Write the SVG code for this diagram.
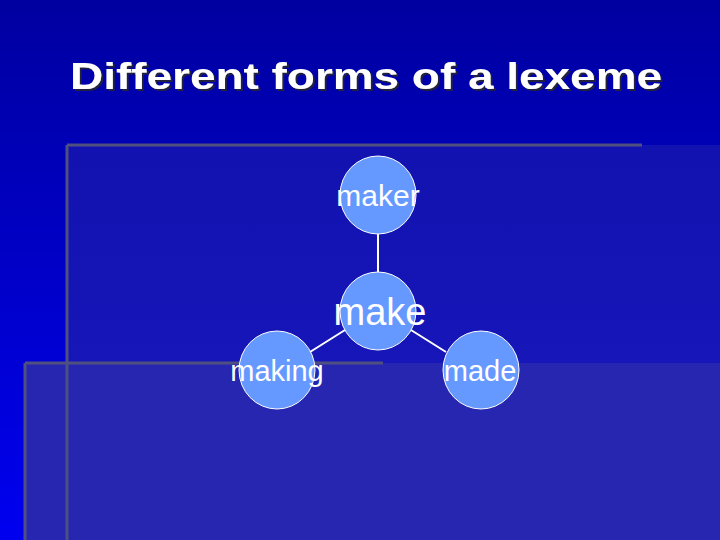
<svg xmlns="http://www.w3.org/2000/svg" width="720" height="540" viewBox="0 0 720 540">
<defs>
<linearGradient id="bg" x1="0" y1="0" x2="0" y2="1"><stop offset="0" stop-color="#0000a0"/><stop offset="0.3" stop-color="#0000b8"/><stop offset="1" stop-color="#0000f0"/></linearGradient>
<linearGradient id="p1" x1="0" y1="0" x2="0" y2="1"><stop offset="0" stop-color="#1212b0"/><stop offset="1" stop-color="#1a1ac0"/></linearGradient>
<filter id="sh" x="-5%" y="-20%" width="110%" height="140%"><feDropShadow dx="2" dy="2" stdDeviation="0.5" flood-color="#202040" flood-opacity="1"/></filter>
</defs>
<style>
.n{fill:#6699ff;stroke:#ffffff;stroke-width:1}
.t{font-family:"Liberation Sans",Arial,sans-serif;fill:#ffffff;text-anchor:middle}
.g{stroke:#505080;stroke-width:3;fill:none}
.e{stroke:#ffffff;stroke-width:2}
</style>
<rect width="720" height="540" fill="url(#bg)"/>
<rect x="67" y="145" width="653" height="395" fill="url(#p1)"/>
<rect x="25" y="363" width="695" height="177" fill="#2626b0"/>
<path class="g" d="M67 145H642M67 145V540M25 363H383M25 363V540"/>
<text x="366" y="89" class="t" font-size="36" font-weight="bold" textLength="592" lengthAdjust="spacingAndGlyphs" filter="url(#sh)">Different forms of a lexeme</text>
<g id="edges">
<line class="e" x1="378" y1="234" x2="378" y2="272"/>
<line class="e" x1="345" y1="330" x2="310" y2="352"/>
<line class="e" x1="411" y1="330" x2="446" y2="352"/>
</g>
<g id="maker"><ellipse class="n" cx="378" cy="195" rx="38" ry="39"/><text class="t" x="378" y="206" font-size="30">maker</text></g>
<g id="make"><ellipse class="n" cx="378" cy="311" rx="38" ry="39"/><text class="t" x="380" y="325" font-size="38">make</text></g>
<g id="making"><ellipse class="n" cx="277" cy="370" rx="38" ry="39"/><text class="t" x="277" y="381" font-size="29">making</text></g>
<g id="made"><ellipse class="n" cx="481" cy="370" rx="38" ry="39"/><text class="t" x="480" y="381" font-size="29">made</text></g>
</svg>
